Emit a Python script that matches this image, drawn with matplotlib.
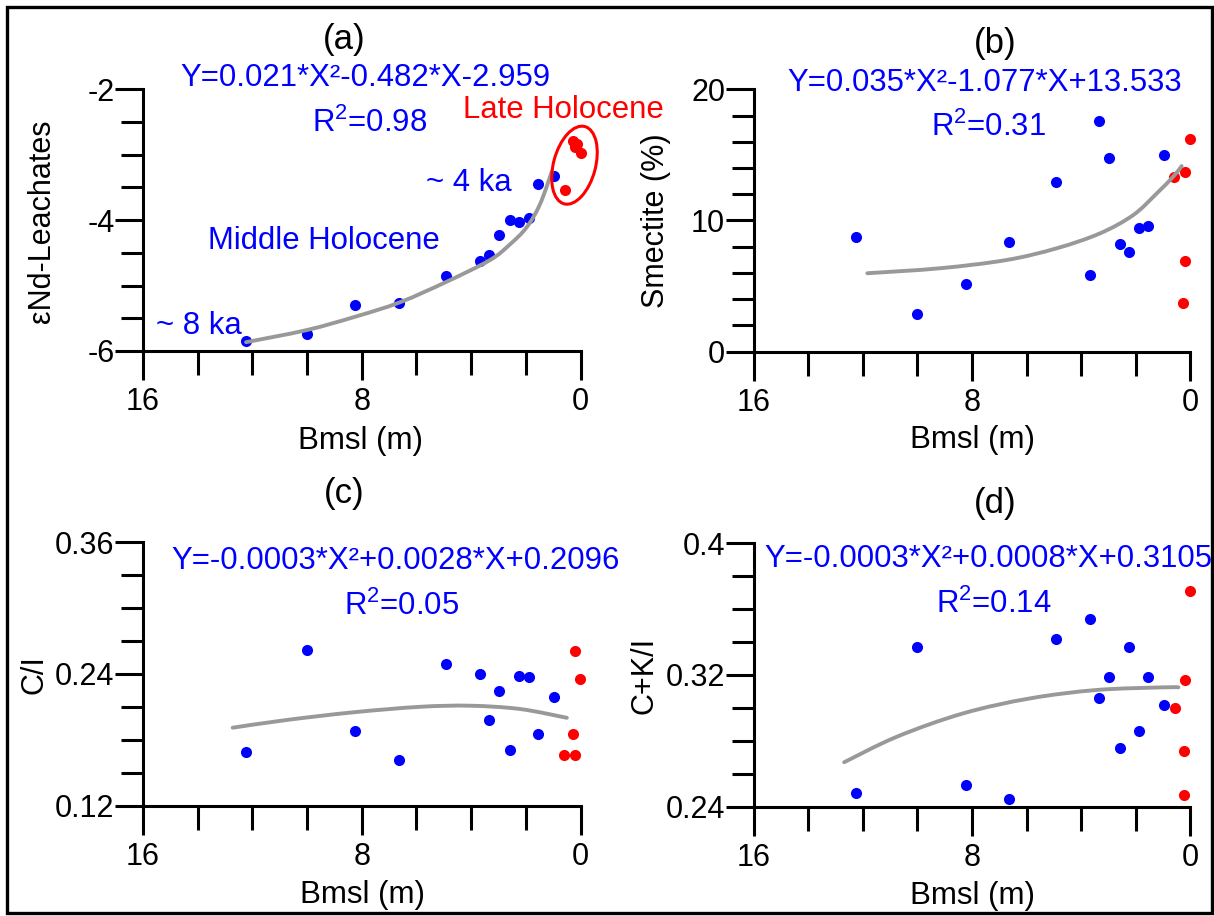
import matplotlib
matplotlib.use("Agg")
import matplotlib.pyplot as plt
import matplotlib.transforms as mtransforms
from matplotlib.patches import Ellipse, Rectangle, PathPatch
from matplotlib.path import Path
from matplotlib.ticker import MultipleLocator

plt.rcParams['font.family'] = ['Liberation Sans', 'DejaVu Sans']
plt.rcParams['mathtext.fontset'] = 'custom'
plt.rcParams['mathtext.rm'] = 'Liberation Sans'

# ---------------- data ----------------
# depth below mean sea level (m) of the Middle Holocene samples
blue_x = [12.25, 10.02, 8.23, 6.63, 4.93, 3.69, 3.36, 2.98, 2.59, 2.25, 1.90, 1.54, 0.96]

# (a) eps Nd leachates
a_blue = [-5.85, -5.74, -5.30, -5.26, -4.86, -4.62, -4.54, -4.22, -4.00, -4.03, -3.97, -3.45, -3.33]
a_red_x = [0.57, 0.26, 0.20, 0.12, 0.0]
a_red = [-3.54, -2.79, -2.88, -2.83, -2.98]
a_fit_x = [12.23, 10.01, 8.19, 6.60, 4.89, 3.31, 2.58, 1.97, 1.48, 1.05]
a_fit_y = [-5.865, -5.68, -5.47, -5.255, -4.94, -4.61, -4.37, -4.11, -3.755, -3.26]

# (b) smectite
b_blue = [8.72, 2.84, 5.16, 8.38, 12.96, 5.84, 17.56, 14.75, 8.20, 7.57, 9.43, 9.60, 15.01]
b_red_x = [0.60, 0.20, 0.0, 0.20, 0.28]
b_red = [13.30, 13.67, 16.22, 6.90, 3.74]
b_fit_x = [11.83, 9.17, 6.73, 4.90, 3.31, 2.09, 1.23, 0.63, 0.32]
b_fit_y = [5.98, 6.36, 6.99, 7.88, 9.02, 10.42, 12.07, 13.34, 14.15]

# (c) C/I
c_blue = [0.169, 0.262, 0.188, 0.162, 0.249, 0.240, 0.198, 0.224, 0.171, 0.238, 0.237, 0.185, 0.219]
c_red_x = [0.59, 0.26, 0.20, 0.19, 0.01]
c_red = [0.166, 0.185, 0.166, 0.261, 0.235]
c_fit_x = [12.72, 10.75, 8.31, 5.87, 4.04, 2.21, 0.50]
c_fit_y = [0.191, 0.198, 0.205, 0.210, 0.211, 0.208, 0.200]

# (d) C+K/I
d_blue = [0.2485, 0.337, 0.253, 0.2447, 0.342, 0.354, 0.306, 0.319, 0.2755, 0.337, 0.286, 0.319, 0.302]
d_red_x = [0.56, 0.23, 0.23, 0.20, 0.0]
d_red = [0.300, 0.274, 0.247, 0.317, 0.371]
d_fit_x = [12.68, 10.75, 8.32, 5.87, 3.43, 0.99, 0.44]
d_fit_y = [0.267, 0.2825, 0.2967, 0.3058, 0.3109, 0.3125, 0.3125]

panels = [
    dict(name='(a)', ylabel='εNd-Leachates', ylim=(-6, -2), major=2, minor=0.5,
         yticks=['-6', '-4', '-2'], blue=a_blue, rx=a_red_x, ry=a_red, fx=a_fit_x, fy=a_fit_y,
         eq='Y=0.021*X²-0.482*X-2.959', r2='0.98'),
    dict(name='(b)', ylabel='Smectite (%)', ylim=(0, 20), major=10, minor=2,
         yticks=['0', '10', '20'], blue=b_blue, rx=b_red_x, ry=b_red, fx=b_fit_x, fy=b_fit_y,
         eq='Y=0.035*X²-1.077*X+13.533', r2='0.31'),
    dict(name='(c)', ylabel='C/I', ylim=(0.12, 0.36), major=0.12, minor=0.03,
         yticks=['0.12', '0.24', '0.36'], blue=c_blue, rx=c_red_x, ry=c_red, fx=c_fit_x, fy=c_fit_y,
         eq='Y=-0.0003*X²+0.0028*X+0.2096', r2='0.05'),
    dict(name='(d)', ylabel='C+K/I', ylim=(0.24, 0.40), major=0.08, minor=0.02,
         yticks=['0.24', '0.32', '0.4'], blue=d_blue, rx=d_red_x, ry=d_red, fx=d_fit_x, fy=d_fit_y,
         eq='Y=-0.0003*X²+0.0008*X+0.3105', r2='0.14'),
]

W, H = 1214, 916
fig = plt.figure(figsize=(W / 100, H / 100), dpi=100)


def fx(px):
    return px / W


def fy(py):
    return 1 - py / H


def smooth_path(xs, ys):
    """Smoothed line style through the read points (cubic Bezier segments)."""
    pts = list(zip(xs, ys))
    n = len(pts)
    verts = [pts[0]]
    codes = [Path.MOVETO]
    for i in range(n - 1):
        p0 = pts[max(i - 1, 0)]
        p1 = pts[i]
        p2 = pts[i + 1]
        p3 = pts[min(i + 2, n - 1)]
        c1 = (p1[0] + (p2[0] - p0[0]) / 6, p1[1] + (p2[1] - p0[1]) / 6)
        c2 = (p2[0] - (p3[0] - p1[0]) / 6, p2[1] - (p3[1] - p1[1]) / 6)
        verts += [c1, c2, p2]
        codes += [Path.CURVE4] * 3
    return Path(verts, codes)


# axes rectangles in pixels: left, top, right, bottom
rects = [(143, 89.3, 580.5, 351), (753.5, 89.3, 1190.4, 351.7),
         (143, 542, 580.5, 805.7), (753.5, 543.3, 1190.4, 806.7)]

# text layout (pixels)
title_pos = [(344, 39), (995, 43), (344, 494), (995, 503)]
eq_pos = [(365, 86), (985, 90.7), (396, 569.3), (988, 567.3)]
r2_pos = [(370, 131.7), (988.5, 136), (402, 615), (994, 613.3)]
xlab_pos = [(361, 441), (972, 440), (362, 895), (972, 896)]
ylab_pos = [(42.5, 221), (655.6, 221), (34.6, 675), (644, 675.5)]

BLUE = '#0000ff'
RED = '#ff0000'
GRAY = '#999999'
LW = 2.2
FS_TICK = 22
FS_LAB = 22.5
FS_EQ = 22.4

axes = []
for i, p in enumerate(panels):
    l, t, r, b = rects[i]
    ax = fig.add_axes([fx(l), fy(b), (r - l) / W, (b - t) / H])
    axes.append(ax)
    ax.set_xlim(16, 0)
    ax.set_ylim(*p['ylim'])
    for s in ['top', 'right']:
        ax.spines[s].set_visible(False)
    for s in ['left', 'bottom']:
        ax.spines[s].set_linewidth(LW)
    ax.xaxis.set_minor_locator(MultipleLocator(2))
    ax.set_xticks([16, 8, 0])
    ax.set_xticklabels(['16', '8', '0'])
    lo, hi = p['ylim']
    ax.set_yticks([lo, lo + p['major'], hi])
    ax.set_yticklabels(p['yticks'])
    ax.yaxis.set_minor_locator(MultipleLocator(p['minor']))
    ax.tick_params(axis='x', which='major', direction='out', length=21, width=LW,
                   labelsize=FS_TICK, pad=5)
    ax.tick_params(axis='x', which='minor', direction='out', length=17, width=LW)
    ax.tick_params(axis='y', which='major', direction='out', length=20, width=LW,
                   labelsize=FS_TICK, pad=0.5)
    ax.tick_params(axis='y', which='minor', direction='out', length=16, width=LW)

    ax.plot(blue_x, p['blue'], 'o', color=BLUE, ms=8, mec='none', clip_on=False, zorder=3)
    ax.plot(p['rx'], p['ry'], 'o', color=RED, ms=8, mec='none', clip_on=False, zorder=3)
    ax.add_patch(PathPatch(smooth_path(p['fx'], p['fy']), fill=False, edgecolor=GRAY,
                           lw=2.8, capstyle='round', joinstyle='round', zorder=4,
                           clip_on=False))

    fig.text(fx(title_pos[i][0]), fy(title_pos[i][1]), p['name'], ha='center', va='center',
             fontsize=25)
    fig.text(fx(eq_pos[i][0]), fy(eq_pos[i][1]), p['eq'], ha='center', va='baseline',
             fontsize=FS_EQ, color=BLUE)
    fig.text(fx(r2_pos[i][0]), fy(r2_pos[i][1]), r'R$^{\mathregular{2}}$=' + p['r2'],
             ha='center', va='baseline', fontsize=FS_EQ, color=BLUE)
    fig.text(fx(xlab_pos[i][0]), fy(xlab_pos[i][1]), 'Bmsl (m)', ha='center', va='center',
             fontsize=FS_LAB)
    fig.text(fx(ylab_pos[i][0]), fy(ylab_pos[i][1]), p['ylabel'], ha='center', va='center',
             rotation=90, fontsize=22)

# annotations of panel (a)
fig.text(fx(462.6), fy(118.3), 'Late Holocene', color=RED, fontsize=FS_EQ, va='baseline')
fig.text(fx(426), fy(190.7), '~ 4 ka', color=BLUE, fontsize=FS_EQ, va='baseline')
fig.text(fx(207.6), fy(249.3), 'Middle Holocene', color=BLUE, fontsize=FS_EQ, va='baseline')
fig.text(fx(156), fy(334.3), '~ 8 ka', color=BLUE, fontsize=FS_EQ, va='baseline')

ax = axes[0]
trans = fig.dpi_scale_trans + mtransforms.ScaledTranslation(0.22, -3.16, ax.transData)
ax.add_patch(Ellipse((0, 0), 0.42, 0.80, angle=-15, fill=False, edgecolor=RED, lw=2.2,
                     transform=trans, clip_on=False, zorder=5))

# outer frame
fig.add_artist(Rectangle((fx(7), fy(913)), (1212 - 7) / W, (913 - 7) / H, fill=False,
                         edgecolor='black', lw=2.4, transform=fig.transFigure))

fig.savefig('out.png', dpi=100)
